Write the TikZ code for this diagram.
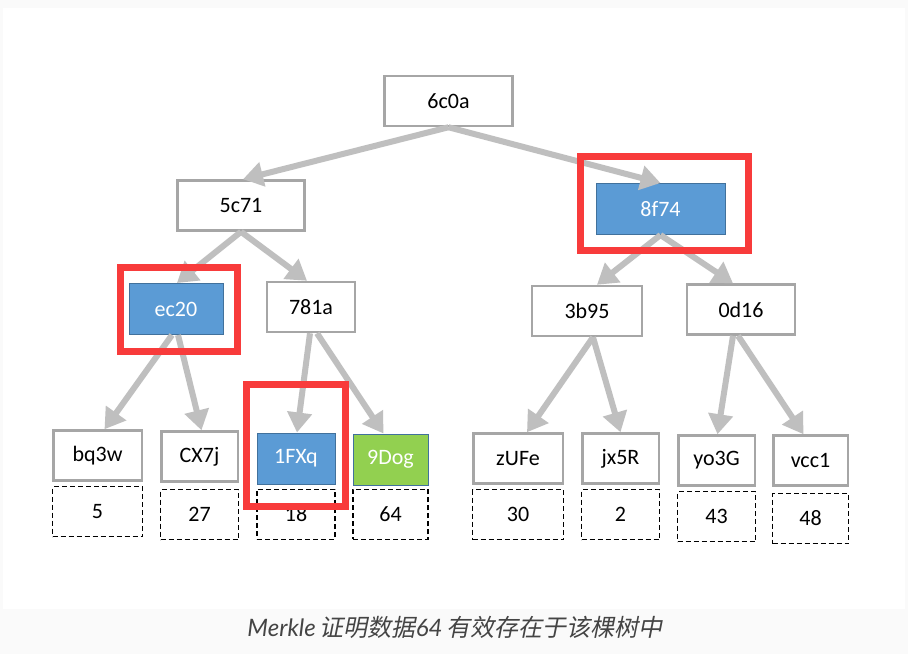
\documentclass[tikz,border=0pt]{standalone}
\usepackage{fontspec}
\setmainfont{Carlito}
\newfontfamily\capfont{Lato}
\newfontfamily\capcjk[FakeSlant=0.2]{Noto Sans CJK SC}
\usetikzlibrary{arrows.meta}
\usetikzlibrary{positioning}

\definecolor{edgegray}{HTML}{BFBFBF}
\definecolor{boxgray}{HTML}{A6A6A6}
\definecolor{proofblue}{HTML}{5B9BD5}
\definecolor{proofline}{HTML}{41719C}
\definecolor{leafgreen}{HTML}{92D050}
\definecolor{framered}{HTML}{F83B3B}
\definecolor{captiongray}{HTML}{444444}
\definecolor{pagegray}{HTML}{FAFAFA}

\begin{document}
\begin{tikzpicture}[x=1pt,y=-1pt]
\tikzset{every node/.style={font=\fontsize{22}{26}\selectfont},
  hashbox/.style={draw=boxgray,line width=2.5pt,fill=white,minimum height=50pt,inner sep=0pt},
  proofbox/.style={draw=proofline,line width=1pt,fill=proofblue,text=white,minimum height=51pt,inner sep=0pt},
  validbox/.style={proofbox,fill=leafgreen},
  databox/.style={draw,line width=1.6pt,dash pattern=on 5pt off 3pt,minimum width=#1,minimum height=50pt,inner sep=0pt},
  hasharrow/.style={draw=edgegray,line width=6pt,-{Triangle[length=20pt,width=24pt]}},
  redframe/.style={draw=framered,line width=7.5pt}}
\useasboundingbox (0,0) rectangle (908,654);
\fill[pagegray] (0,0) rectangle (908,654);
\fill[white] (3,8) rectangle (905,609);
% hash tree
\node[hashbox,minimum width=128pt](r) at (448.5,101){6c0a};
\node[hashbox,minimum width=127pt](a) at (241,205.5){5c71};
\node[proofbox,minimum width=129pt](b) at (660.5,209){8f74};
\node[proofbox,minimum width=94pt](aa) at (176,309){ec20};
\node[hashbox,minimum width=88pt](ab) at (311,307){781a};
\node[hashbox,minimum width=110pt](ba) at (587,311){3b95};
\node[hashbox,minimum width=108pt](bb) at (741,309.5){0d16};
\node[hashbox,minimum width=88.5pt](aaa) at (97.5,455.5){bq3w};
\node[hashbox,minimum width=76.5pt](aab) at (199.5,456.5){CX7j};
\node[proofbox,minimum width=78pt](aba) at (296,458.5){1FXq};
\node[validbox,minimum width=75pt](abb) at (390.5,459.5){9Dog};
\node[hashbox,minimum width=89.5pt](baa) at (518,458.5){zUFe};
\node[hashbox,minimum width=76.5pt](bab) at (620.5,458.5){jx5R};
\node[hashbox,minimum width=76.5pt](bba) at (716.5,460.5){yo3G};
\node[hashbox,minimum width=74.5pt](bbb) at (810.5,460.5){vcc1};
% data blocks
\node[databox=90pt](d1)[below=4pt of aaa]{5};
\node[databox=78pt](d2)[below=6pt of aab]{27};
\node[databox=78pt](d3)[below=4pt of aba]{18};
\node[databox=75pt](d4)[below=3pt of abb]{64};
\node[databox=91pt](d5)[below=4pt of baa]{30};
\node[databox=78pt](d6)[below=4pt of bab]{2};
\node[databox=78pt](d7)[below=4pt of bba]{43};
\node[databox=76pt](d8)[below=6pt of bbb]{48};
% arrows
\draw[hasharrow](r.south) -- ([xshift=2pt]a.north);
\draw[hasharrow](r.south) -- (b.north);
\draw[hasharrow](a.south) -- ([xshift=1pt]aa.north);
\draw[hasharrow](a.south) -- ([xshift=-4pt]ab.north);
\draw[hasharrow]([xshift=-4pt]aa.south) -- ([xshift=7pt]aaa.north);
\draw[hasharrow]([xshift=2pt]aa.south) -- ([xshift=2pt]aab.north);
\draw[hasharrow]([xshift=-1pt]ab.south) -- ([xshift=1pt]aba.north);
\draw[hasharrow]([xshift=6pt]ab.south) -- ([xshift=-7pt]abb.north);
\draw[hasharrow](b.south) -- ([xshift=10pt]ba.north);
\draw[hasharrow](b.south) -- ([xshift=-8pt]bb.north);
\draw[hasharrow]([xshift=6pt]ba.south) -- ([xshift=9pt]baa.north);
\draw[hasharrow]([xshift=6pt]ba.south) -- (bab.north);
\draw[hasharrow]([xshift=-8pt]bb.south) -- ([xshift=1pt]bba.north);
\draw[hasharrow]([xshift=-3pt]bb.south) -- ([xshift=-7pt]bbb.north);
% proof path
\draw[redframe] (120.5,267.5) rectangle (237.5,351.5);
\draw[redframe] (580.5,156.5) rectangle (748.5,250.5);
\draw[redframe] (246.5,384.5) rectangle (345.5,506.5);
% caption
\node[text=captiongray,anchor=base,font=\fontsize{24}{28}\selectfont](cap) at (455,636){\capfont\itshape Merkle\,\capcjk 证明数据\capfont\itshape 64\,\capcjk 有效存在于该棵树中};
\end{tikzpicture}
\end{document}
